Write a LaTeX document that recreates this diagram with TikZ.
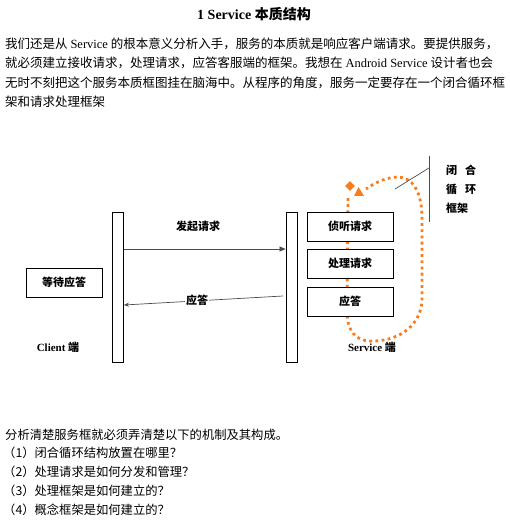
\documentclass[tikz,border=0pt]{standalone}
\usepackage{fontspec}
\setmainfont{Liberation Serif}
\newfontfamily\cjk{Noto Sans CJK SC}
\usetikzlibrary{arrows.meta,shapes.geometric}
\definecolor{loopc}{RGB}{247,125,30}
\newcommand{\lat}[1]{{\rmfamily #1}}
\begin{document}
\begin{tikzpicture}[x=1pt,y=-1pt,
  txt/.style={anchor=west,inner sep=0pt,font=\fontsize{12.5}{12.5}\selectfont\cjk},
  qtxt/.style={anchor=west,inner sep=0pt,font=\fontsize{12.3}{12.3}\selectfont\cjk},
  lbl/.style={inner sep=0pt,font=\fontsize{11}{11}\selectfont\cjk\bfseries},
  bar/.style={draw=black,line width=0.8pt,fill=white},
  sbox/.style={draw=black,line width=0.8pt,fill=white,minimum width=86pt,minimum height=29pt,inner sep=0pt,font=\fontsize{11}{11}\selectfont\cjk\bfseries},
  dotline/.style={draw=loopc,line width=2.8pt,dash pattern=on 2.8pt off 3.4pt},
  thin/.style={draw=black!70,line width=0.7pt}]
\useasboundingbox (0,0) rectangle (509,521);
% title
\node[inner sep=0pt,font=\fontsize{14}{14}\selectfont\bfseries] (title) at (254,14) {1 Service {\cjk 本质结构}};
% paragraph
\node[txt] (p1) at (5,44) {我们还是从 \lat{Service} 的根本意义分析入手，服务的本质就是响应客户端请求。要提供服务，};
\node[txt] (p2) at (5,63) {就必须建立接收请求，处理请求，应答客服端的框架。我想在 \lat{Android Service} 设计者也会};
\node[txt] (p3) at (5,83) {无时不刻把这个服务本质框图挂在脑海中。从程序的角度，服务一定要存在一个闭合循环框};
\node[txt] (p4) at (5,102) {架和请求处理框架};
% loop (behind boxes)
\path[dotline] (348,198) -- (347,315) .. controls (349,338) and (362,342) .. (375,341)
   .. controls (400,340) and (421,325) .. (422,300) -- (422,215)
   .. controls (421,190) and (412,177) .. (397,177)
   .. controls (382,178) and (372,185) .. (366,189);
\node[diamond,fill=loopc,inner sep=0pt,minimum size=10pt] (dia) at (350,186) {};
\fill[loopc] (354,196) -- (358.5,187) -- (364,196) -- cycle;
% bars
\node[bar,minimum width=11pt,minimum height=150pt,inner sep=0pt] (cbar) at (118,287) {};
\node[bar,minimum width=11pt,minimum height=150pt,inner sep=0pt] (sbar) at (291.5,287) {};
% boxes
\node[sbox,minimum width=76pt] (wait) at (64,282.5) {等待应答};
\node[sbox] (b1) at (350,226.5) {侦听请求};
\node[sbox] (b2) at (350,263.5) {处理请求};
\node[sbox] (b3) at (350,301.5) {应答};
% arrows
\coordinate (r1) at (cbar.east |- 0,249);
\coordinate (r2) at (sbar.west |- 0,249);
\draw[thin,-{Triangle[length=6pt,width=5pt]}] (r1) -- (r2);
\node[lbl] (req) at (198,226) {发起请求};
\coordinate (a1) at (283,296);
\coordinate (a2) at (cbar.east |- 0,305);
\draw[thin,-{Stealth[length=5pt,width=4pt]}] (a1) -- (a2);
\node[lbl,fill=white,inner xsep=1pt] (ans) at (197,300) {应答};
% end labels
\node[inner sep=0pt,font=\fontsize{11}{11}\selectfont\bfseries] (cl) at (58,347) {Client {\cjk 端}};
\node[inner sep=0pt,font=\fontsize{11}{11}\selectfont\bfseries] (sl) at (372,347) {Service {\cjk 端}};
% callout
\coordinate (v1) at (429,156);
\coordinate (v2) at (429,222);
\coordinate (c1) at (395,189);
\coordinate (c2) at (429,168);
\draw[thin] (v1) -- (v2);
\draw[thin] (c1) -- (c2);
\node[lbl,anchor=west] (k1) at (446,170) {闭\hspace{8pt}合};
\node[lbl,anchor=west] (k2) at (446,189) {循\hspace{8pt}环};
\node[lbl,anchor=west] (k3) at (446,208) {框架};
% bottom text
\node[qtxt] (q0) at (5,435) {分析清楚服务框就必须弄清楚以下的机制及其构成。};
\node[qtxt] (q1) at (3,453) {（1）闭合循环结构放置在哪里？};
\node[qtxt] (q2) at (3,472) {（2）处理请求是如何分发和管理？};
\node[qtxt] (q3) at (3,491) {（3）处理框架是如何建立的？};
\node[qtxt] (q4) at (3,510) {（4）概念框架是如何建立的？};
\end{tikzpicture}
\end{document}
